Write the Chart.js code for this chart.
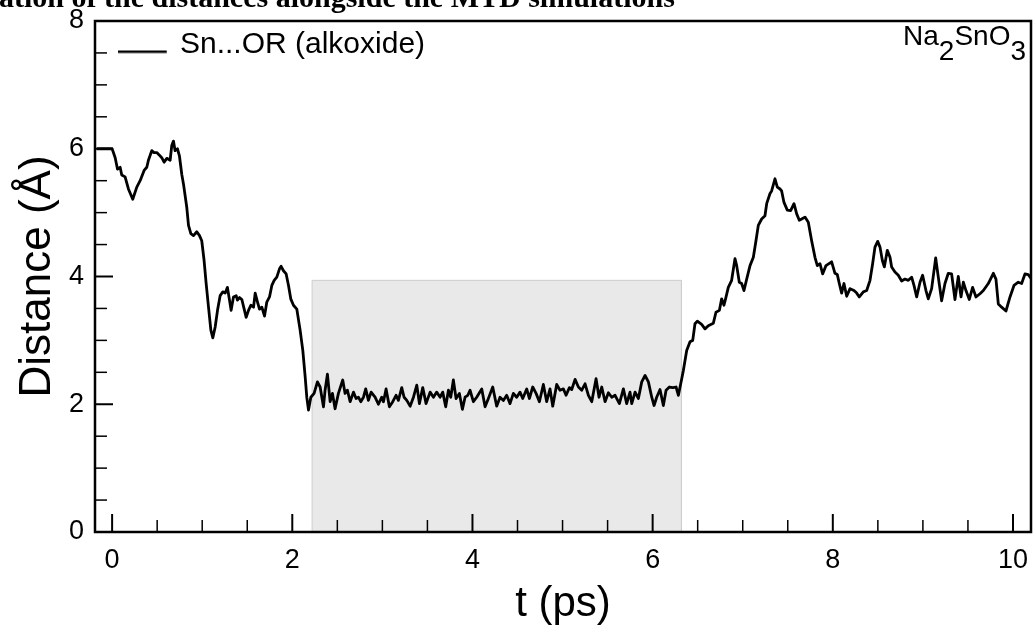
<!DOCTYPE html>
<html>
<head>
<meta charset="utf-8">
<script src="https://cdn.jsdelivr.net/npm/chart.js@4/dist/chart.umd.min.js"></script>
<style>
  html, body { margin: 0; padding: 0; background: #fff; }
  #wrap { width: 1034px; height: 630px; position: relative; }
</style>
</head>
<body>
<div id="wrap"><canvas id="c" width="1034" height="630"></canvas></div>
<script>
// ---- data ----
const seriesLabel = 'Sn...OR (alkoxide)';
const tVals = [
-0.17,0.000,0.034,0.060,0.089,0.107,0.144,0.181,0.229,0.274,0.311,0.355,0.385,0.403,0.440,0.466,0.496,0.525,0.551,0.577,
0.607,0.644,0.662,0.681,0.699,0.725,0.747,0.773,0.792,0.829,0.848,0.874,0.903,0.940,0.970,0.995,1.021,1.044,1.070,1.096,
1.118,1.144,1.170,1.199,1.229,1.255,1.280,1.303,1.321,1.347,1.377,1.391,1.414,1.440,1.466,1.488,1.514,1.540,1.570,1.588,
1.614,1.636,1.662,1.692,1.717,1.747,1.773,1.799,1.828,1.858,1.876,1.902,1.932,1.958,1.983,2.013,2.050,2.087,2.117,2.143,
2.161,2.180,2.206,2.242,2.279,2.309,2.346,2.364,2.390,2.420,2.446,2.475,2.512,2.560,2.586,2.612,2.642,2.679,2.708,2.734,
2.760,2.790,2.815,2.845,2.875,2.919,2.956,2.993,3.012,3.041,3.078,3.115,3.152,3.178,3.215,3.241,3.271,3.308,3.345,3.382,
3.411,3.448,3.485,3.530,3.567,3.603,3.641,3.670,3.703,3.733,3.759,3.788,3.818,3.855,3.888,3.918,3.948,3.973,4.010,4.047,
4.103,4.140,4.177,4.225,4.269,4.306,4.343,4.380,4.417,4.454,4.491,4.528,4.558,4.602,4.632,4.669,4.706,4.743,4.787,4.824,
4.861,4.891,4.935,4.972,5.009,5.039,5.076,5.102,5.139,5.176,5.213,5.250,5.287,5.324,5.372,5.405,5.435,5.472,5.509,5.546,
5.583,5.631,5.675,5.712,5.749,5.768,5.805,5.842,5.879,5.916,5.953,5.990,6.016,6.045,6.082,6.119,6.149,6.186,6.223,6.260,
6.286,6.323,6.341,6.378,6.415,6.445,6.470,6.496,6.544,6.581,6.618,6.674,6.703,6.741,6.766,6.792,6.815,6.840,6.877,6.914,
6.933,6.962,6.988,7.014,7.044,7.081,7.118,7.147,7.173,7.210,7.247,7.266,7.303,7.321,7.358,7.384,7.414,7.432,7.458,7.495,
7.532,7.569,7.599,7.628,7.654,7.691,7.728,7.765,7.802,7.828,7.858,7.887,7.924,7.987,8.024,8.050,8.072,8.098,8.124,8.154,
8.191,8.235,8.265,8.294,8.339,8.376,8.413,8.442,8.468,8.498,8.524,8.550,8.572,8.605,8.635,8.653,8.690,8.727,8.764,8.801,
8.838,8.875,8.901,8.931,8.968,8.997,9.034,9.060,9.097,9.142,9.171,9.208,9.245,9.282,9.319,9.356,9.393,9.423,9.449,9.478,
9.515,9.552,9.589,9.634,9.671,9.726,9.782,9.811,9.837,9.874,9.922,9.967,10.011,10.059,10.096,10.133,10.170,10.207
];
const dVals = [
6.00,6.00,5.86,5.68,5.71,5.59,5.56,5.37,5.21,5.40,5.50,5.66,5.71,5.82,5.97,5.94,5.94,5.90,5.86,5.79,
5.85,5.82,6.05,6.12,5.97,6.00,5.89,5.60,5.45,5.08,4.80,4.67,4.64,4.70,4.64,4.56,4.25,3.89,3.52,3.16,
3.04,3.21,3.47,3.70,3.76,3.74,3.83,3.63,3.47,3.68,3.70,3.63,3.67,3.64,3.49,3.36,3.47,3.55,3.52,3.74,
3.60,3.49,3.52,3.38,3.60,3.68,3.86,3.94,3.99,4.12,4.16,4.09,4.04,3.86,3.65,3.55,3.49,3.16,2.84,2.43,
2.11,1.91,2.11,2.17,2.35,2.27,1.96,2.22,2.47,2.04,2.17,1.93,2.17,2.38,2.17,2.22,2.04,2.19,2.09,2.11,
2.04,2.11,2.24,2.06,2.19,2.11,2.00,2.11,2.04,2.24,1.96,2.04,2.14,2.06,2.26,2.11,2.06,1.97,2.11,2.30,
2.01,2.26,2.01,2.19,2.11,2.19,2.11,2.19,1.96,2.22,2.11,2.38,2.09,2.17,1.92,2.11,2.14,2.22,2.04,2.11,
2.24,1.96,2.09,2.27,1.97,2.11,2.06,2.14,2.01,2.17,2.11,2.19,2.09,2.24,2.09,2.27,2.17,2.04,2.31,2.04,
2.24,1.97,2.31,2.22,2.24,2.14,2.26,2.23,2.39,2.27,2.22,2.32,2.14,2.04,2.40,2.11,2.27,2.04,2.18,2.11,
2.14,2.01,2.24,2.01,2.19,2.01,2.19,2.09,2.35,2.45,2.35,2.11,1.98,2.11,2.23,1.98,2.22,2.27,2.26,2.27,
2.14,2.40,2.53,2.84,2.98,3.00,3.26,3.30,3.25,3.18,3.23,3.27,3.44,3.47,3.65,3.55,3.68,3.83,3.94,4.28,
4.17,3.91,3.89,3.78,3.96,4.17,4.30,4.56,4.80,4.90,4.95,5.14,5.30,5.34,5.53,5.40,5.37,5.34,5.16,5.04,
5.03,5.14,4.98,4.88,4.90,4.93,4.85,4.56,4.30,4.17,4.20,4.04,4.17,4.23,4.05,4.03,3.89,3.74,3.89,3.69,
3.81,3.78,3.74,3.68,3.76,3.78,3.94,4.20,4.46,4.55,4.46,4.25,4.15,4.41,4.30,4.15,4.07,4.02,3.93,3.96,
3.94,3.99,3.86,3.68,3.91,4.02,3.78,3.65,3.81,4.29,3.99,3.62,3.89,4.05,4.04,3.64,4.00,3.68,3.91,3.78,
3.64,3.83,3.68,3.73,3.78,3.89,4.05,3.96,3.57,3.52,3.46,3.68,3.86,3.91,3.89,4.04,4.03,3.96
];
// shaded window
const shadeX = [2.22, 2.22, 6.32, 6.32];
const shadeY = [0, 3.94, 3.94, 0];

const xMajorTicks = [0, 2, 4, 6, 8, 10];
const xMinorTicks = [0.5, 1, 1.5, 2.5, 3, 3.5, 4.5, 5, 5.5, 6.5, 7, 7.5, 8.5, 9, 9.5];
const yMajorTicks = [0, 2, 4, 6, 8];
const yMinorTicks = [0.5, 1, 1.5, 2.5, 3, 3.5, 4.5, 5, 5.5, 6.5, 7, 7.5];

const captionText = 'ation of the distances alongside the MTD simulations';
const tagParts = [['Na', false], ['2', true], ['SnO', false], ['3', true]];
const xTitle = 't (ps)';
const yTitle = 'Distance (Å)';

// ---- build ----
const lineData = tVals.map((t, i) => ({x: t, y: dVals[i]}));
const shadeData = shadeX.map((t, i) => ({x: t, y: shadeY[i]}));

// legend line sample (sits a little below the text middle, as in the reference)
const legendIcon = document.createElement('canvas');
legendIcon.width = 54; legendIcon.height = 20;
(function () {
  const g = legendIcon.getContext('2d');
  g.strokeStyle = '#000'; g.lineWidth = 2.6;
  g.beginPath(); g.moveTo(0, 17.2); g.lineTo(49, 17.2); g.stroke();
})();

Chart.defaults.font.family = '"Liberation Sans", Arial, Helvetica, sans-serif';
Chart.defaults.color = '#000';

const decor = {
  id: 'decor',
  afterDatasetsDraw(chart) {
    const {ctx, chartArea: a, scales: {x, y}} = chart;
    ctx.save();
    ctx.strokeStyle = '#000';
    ctx.lineCap = 'butt';
    const seg = (x1, y1, x2, y2) => { ctx.beginPath(); ctx.moveTo(x1, y1); ctx.lineTo(x2, y2); ctx.stroke(); };
    ctx.lineWidth = 2;
    xMajorTicks.forEach(v => { const p = x.getPixelForValue(v); seg(p, a.bottom, p, a.bottom - 18); });
    yMajorTicks.forEach(v => { const p = y.getPixelForValue(v); seg(a.left, p, a.left + 18, p); });
    ctx.lineWidth = 1.5;
    xMinorTicks.forEach(v => { const p = x.getPixelForValue(v); seg(p, a.bottom, p, a.bottom - 12); });
    yMinorTicks.forEach(v => { const p = y.getPixelForValue(v); seg(a.left, p, a.left + 12, p); });
    ctx.lineWidth = 2.5;
    ctx.strokeRect(a.left, a.top, a.right - a.left, a.bottom - a.top);
    ctx.restore();
  },
  afterDraw(chart) {
    const {ctx} = chart;
    ctx.save();
    ctx.fillStyle = '#000';
    ctx.font = 'bold 30px "Liberation Serif", "Times New Roman", serif';
    ctx.textBaseline = 'alphabetic';
    ctx.textAlign = 'left';
    ctx.fillText(captionText, -1, 7);
    ctx.font = '28px "Liberation Sans", Arial, sans-serif';
    let total = 0;
    tagParts.forEach(([s]) => { total += ctx.measureText(s).width; });
    let cx = 1026 - total;
    tagParts.forEach(([s, sub]) => {
      ctx.fillText(s, cx, sub ? 60 : 45);
      cx += ctx.measureText(s).width;
    });
    ctx.restore();
  }
};

new Chart(document.getElementById('c'), {
  type: 'line',
  data: {
    datasets: [
      {
        label: seriesLabel,
        data: lineData,
        borderColor: '#000',
        borderWidth: 2.8,
        pointRadius: 0,
        tension: 0,
        fill: false,
        borderJoinStyle: 'round'
      },
      {
        label: 'window',
        data: shadeData,
        borderColor: '#cdcdcd',
        borderWidth: 1,
        backgroundColor: '#e9e9e9',
        pointRadius: 0,
        tension: 0,
        fill: 'origin'
      }
    ]
  },
  options: {
    responsive: false,
    animation: false,
    devicePixelRatio: 1,
    layout: { padding: { left: 0, top: 21, right: 3, bottom: 0 } },
    plugins: {
      tooltip: { enabled: false },
      legend: {
        position: 'chartArea',
        align: 'start',
        labels: {
          filter: item => item.datasetIndex === 0,
          usePointStyle: true,
          pointStyle: legendIcon,
          pointStyleWidth: 40.5,
          padding: 29.5,
          font: { size: 30 },
          color: '#000'
        }
      }
    },
    scales: {
      x: {
        type: 'linear',
        min: -0.19,
        max: 10.2,
        grid: { display: false, drawTicks: false },
        border: { display: false },
        afterBuildTicks: s => { s.ticks = xMajorTicks.map(v => ({value: v})); },
        afterFit: s => { s.height = 98; s.paddingLeft = 0; s.paddingRight = 0; },
        ticks: { padding: 12, font: { size: 27 }, color: '#000', maxRotation: 0, autoSkip: false },
        title: { display: true, text: xTitle, font: { size: 42 }, color: '#000', padding: { top: 0, bottom: 0 } }
      },
      y: {
        type: 'linear',
        min: 0,
        max: 8,
        grid: { display: false, drawTicks: false },
        border: { display: false },
        afterBuildTicks: s => { s.ticks = yMajorTicks.map(v => ({value: v})); },
        afterFit: s => { s.width = 95; s.paddingTop = 0; s.paddingBottom = 0; },
        ticks: { padding: 11, font: { size: 27 }, color: '#000', autoSkip: false },
        title: { display: true, text: yTitle, font: { size: 44 }, color: '#000', padding: { top: 11, bottom: 0 } }
      }
    }
  },
  plugins: [decor]
});
</script>
</body>
</html>
